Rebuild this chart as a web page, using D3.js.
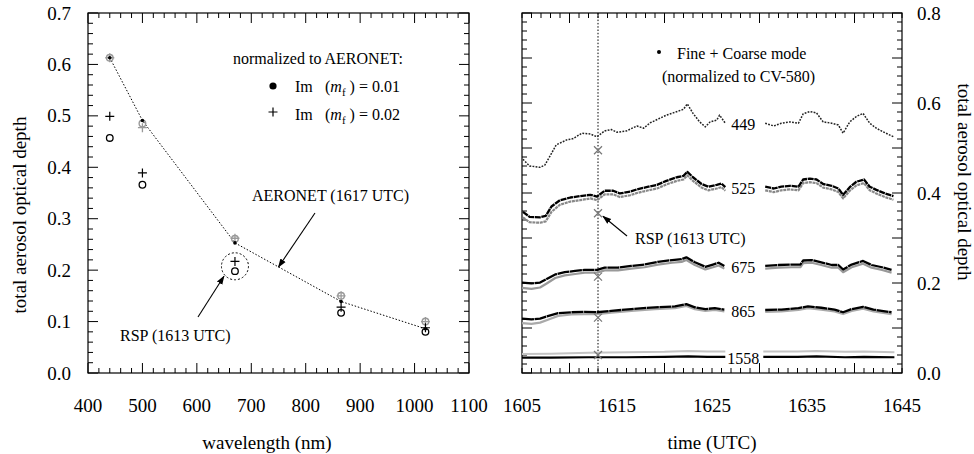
<!DOCTYPE html>
<html><head><meta charset="utf-8">
<script src="https://cdn.jsdelivr.net/npm/d3@7"></script>
<style>
body{margin:0;background:#fff;}
</style></head>
<body><svg id="c" width="974" height="454" style="font-family:'Liberation Serif','Times New Roman',serif"></svg>
<script>
// ---------- Left panel data ----------
const wavelengths = [440, 500, 670, 865, 1020];
const aeronetAod   = [0.613, 0.491, 0.253, 0.139, 0.086];
const rspIm001     = [0.457, 0.366, 0.198, 0.117, 0.080];   // open circles
const rspIm002     = [0.499, 0.389, 0.217, 0.128, 0.088];   // plus
const normIm001    = [0.613, 0.485, 0.261, 0.150, 0.100];   // gray circles
const normIm002    = [0.613, 0.477, 0.262, 0.150, 0.100];   // gray plus
const leftXTicks = [400, 500, 600, 700, 800, 900, 1000, 1100];
const leftYTicks = [0.0, 0.1, 0.2, 0.3, 0.4, 0.5, 0.6, 0.7];

// ---------- Right panel data ----------
const dataGap = [1627, 1630];  // no data recorded in this interval
const t449 = [1605.1,1605.8,1606.9,1607.4,1608.0,1608.6,1609.7,1610.4,1611.3,1612.2,1612.9,1613.7,1614.4,1615.0,1616.0,1617.1,1617.8,1618.5,1619.5,1620.2,1620.9,1622.0,1622.4,1623.0,1623.7,1624.3,1624.8,1625.5,1625.8,1626.4,1630.6,1631.5,1632.3,1633.2,1634.1,1634.6,1635.3,1636.0,1636.7,1637.6,1638.3,1638.8,1639.5,1640.2,1640.9,1641.6,1642.3,1643.0,1644.1];
const v449 = [0.475,0.460,0.457,0.462,0.484,0.507,0.518,0.521,0.533,0.531,0.525,0.538,0.541,0.535,0.538,0.549,0.544,0.556,0.566,0.573,0.578,0.586,0.598,0.577,0.558,0.547,0.558,0.562,0.573,0.555,0.555,0.549,0.555,0.558,0.555,0.576,0.581,0.578,0.558,0.555,0.551,0.533,0.558,0.570,0.577,0.555,0.544,0.536,0.525];

const t525 = [1605.1,1605.8,1606.9,1607.5,1608.1,1609.0,1610.1,1611.1,1612.2,1612.9,1613.7,1614.6,1615.3,1616.4,1617.1,1618.1,1619.2,1620.2,1621.3,1622.0,1622.4,1623.0,1623.9,1624.6,1625.5,1626.0,1626.4,1630.6,1631.5,1632.3,1633.2,1634.1,1634.6,1635.3,1636.0,1636.7,1637.6,1638.3,1638.8,1639.5,1640.2,1641.0,1641.6,1642.3,1643.2,1644.1];
const v525 = [0.358,0.347,0.346,0.349,0.370,0.384,0.390,0.393,0.396,0.392,0.405,0.405,0.399,0.403,0.408,0.413,0.418,0.427,0.435,0.438,0.447,0.435,0.420,0.414,0.418,0.421,0.413,0.414,0.410,0.414,0.416,0.414,0.430,0.432,0.430,0.420,0.416,0.410,0.396,0.413,0.425,0.430,0.414,0.407,0.399,0.393];
const g525 = [0.346,0.335,0.334,0.337,0.358,0.374,0.381,0.384,0.388,0.384,0.397,0.397,0.391,0.395,0.400,0.405,0.410,0.419,0.427,0.430,0.439,0.427,0.412,0.406,0.410,0.413,0.405,0.406,0.402,0.406,0.408,0.406,0.422,0.424,0.422,0.412,0.408,0.402,0.388,0.405,0.417,0.422,0.406,0.399,0.391,0.385];

const t675 = [1605.0,1606.0,1606.9,1607.6,1608.5,1609.5,1610.6,1611.6,1612.9,1613.7,1615.1,1616.5,1617.9,1619.3,1620.8,1621.8,1622.3,1623.2,1624.3,1625.1,1625.7,1626.3,1630.6,1632.0,1633.4,1634.3,1634.6,1635.5,1636.5,1637.6,1638.3,1638.8,1639.7,1640.9,1641.8,1642.9,1643.9];
const v675 = [0.201,0.199,0.201,0.209,0.219,0.224,0.227,0.229,0.229,0.234,0.234,0.238,0.241,0.247,0.251,0.253,0.257,0.246,0.236,0.241,0.245,0.238,0.238,0.240,0.241,0.241,0.250,0.251,0.246,0.240,0.240,0.230,0.241,0.249,0.240,0.235,0.229];
const g675 = [0.189,0.187,0.190,0.199,0.211,0.217,0.220,0.223,0.223,0.228,0.228,0.232,0.235,0.241,0.245,0.247,0.251,0.240,0.230,0.235,0.239,0.232,0.232,0.234,0.235,0.235,0.244,0.245,0.240,0.234,0.234,0.224,0.235,0.243,0.234,0.229,0.223];

const t865 = [1605.0,1606.0,1606.9,1607.8,1608.8,1610.2,1611.6,1612.9,1614.4,1616.5,1619.0,1621.1,1622.3,1623.2,1624.3,1625.3,1626.3,1630.6,1632.3,1634.1,1635.1,1636.5,1637.9,1638.8,1639.7,1640.9,1642.0,1643.9];
const v865 = [0.121,0.119,0.121,0.127,0.133,0.135,0.136,0.135,0.138,0.142,0.146,0.148,0.153,0.146,0.142,0.144,0.141,0.140,0.141,0.144,0.148,0.145,0.141,0.135,0.142,0.147,0.141,0.135];
const g865 = [0.111,0.109,0.112,0.119,0.127,0.130,0.131,0.131,0.134,0.138,0.142,0.144,0.149,0.142,0.138,0.140,0.137,0.136,0.137,0.140,0.144,0.141,0.137,0.131,0.138,0.143,0.137,0.131];

const t1558 = [1605.0,1608.0,1612.0,1616.0,1620.0,1622.5,1624.5,1626.4,1630.4,1634.0,1636.0,1639.0,1641.0,1644.2];
const v1558 = [0.034,0.034,0.035,0.035,0.036,0.037,0.036,0.036,0.036,0.036,0.037,0.035,0.036,0.035];
const g1558 = [0.042,0.043,0.045,0.046,0.047,0.049,0.048,0.048,0.048,0.048,0.049,0.047,0.048,0.046];

const channelLabels = ["449", "525", "675", "865", "1558"];
const rspTime = 1613;
const rspValues = [0.495, 0.355, 0.214, 0.123, 0.040];
const rightXTicks = [1605, 1615, 1625, 1635, 1645];
const rightYTicks = [0.0, 0.2, 0.4, 0.6, 0.8];

// ---------- drawing ----------
const svg = d3.select("#c");
const FS = 19;
const FONT = "'Liberation Serif','Times New Roman',serif";
function txt(g) { return g.append("text").style("font-family", FONT).attr("fill", "#000"); }

function frame(g, x, y, xMinor, xMajor, yMinor, yMajor) {
  const [x0, x1] = x.range(), [y0, y1] = y.range();
  g.append("rect").attr("x", x0).attr("y", y1).attr("width", x1 - x0).attr("height", y0 - y1)
    .attr("fill", "none").attr("stroke", "#000").attr("stroke-width", 1.2);
  const isMaj = (v, maj) => Math.abs(v / maj - Math.round(v / maj)) < 1e-6;
  xMinor.forEach(v => {
    const L = isMaj(v, xMajor) ? 10 : 5, px = x(v);
    g.append("line").attr("x1", px).attr("x2", px).attr("y1", y0).attr("y2", y0 - L).attr("stroke", "#000");
    g.append("line").attr("x1", px).attr("x2", px).attr("y1", y1).attr("y2", y1 + L).attr("stroke", "#000");
  });
  yMinor.forEach(v => {
    const L = isMaj(v, yMajor) ? 10 : 5, py = y(v);
    g.append("line").attr("y1", py).attr("y2", py).attr("x1", x0).attr("x2", x0 + L).attr("stroke", "#000");
    g.append("line").attr("y1", py).attr("y2", py).attr("x1", x1).attr("x2", x1 - L).attr("stroke", "#000");
  });
}

const defs = svg.append("defs");
defs.append("marker").attr("id", "arr").attr("viewBox", "0 0 10 10").attr("refX", 9).attr("refY", 5)
  .attr("markerWidth", 9).attr("markerHeight", 9).attr("orient", "auto-start-reverse").attr("markerUnits", "userSpaceOnUse")
  .append("path").attr("d", "M0,1.5 L10,5 L0,8.5 Z").attr("fill", "#000");

// ===== Left panel =====
const xL = d3.scaleLinear().domain([400, 1100]).range([88, 469]);
const yL = d3.scaleLinear().domain([0, 0.7]).range([373, 13]);
const gL = svg.append("g");
frame(gL, xL, yL, d3.range(400, 1101, 20), 100, d3.range(0, 0.7001, 0.02).map(v => +v.toFixed(2)), 0.1);

leftXTicks.forEach(d => txt(gL).attr("x", xL(d)).attr("y", 412).attr("text-anchor", "middle").attr("font-size", FS).text(d));
leftYTicks.forEach(d => txt(gL).attr("x", 71).attr("y", yL(d) + 6.5).attr("text-anchor", "end").attr("font-size", FS).text(d.toFixed(1)));
txt(gL).attr("x", 267).attr("y", 449).attr("text-anchor", "middle").attr("font-size", FS).text("wavelength (nm)");
txt(gL).attr("transform", "translate(26,215) rotate(-90)").attr("text-anchor", "middle").attr("font-size", FS)
  .text("total aerosol optical depth");

const aer = wavelengths.map((w, i) => [w, aeronetAod[i]]);
gL.append("path").datum(aer).attr("d", d3.line().x(d => xL(d[0])).y(d => yL(d[1])))
  .attr("fill", "none").attr("stroke", "#000").attr("stroke-width", 1).attr("stroke-dasharray", "1.5,1.8");

function plus(g, cx, cy, s, color, w) {
  g.append("path").attr("d", `M${cx - s},${cy}H${cx + s}M${cx},${cy - s}V${cy + s}`)
    .attr("stroke", color).attr("stroke-width", w).attr("fill", "none");
}
wavelengths.forEach((w, i) => {
  const cx = xL(w);
  gL.append("circle").attr("cx", cx).attr("cy", yL(normIm001[i])).attr("r", 3.3).attr("fill", "none").attr("stroke", "#999").attr("stroke-width", 1.4);
  plus(gL, cx, yL(normIm002[i]), 4.5, "#999", 1.3);
  gL.append("circle").attr("cx", cx).attr("cy", yL(rspIm001[i])).attr("r", 3.3).attr("fill", "none").attr("stroke", "#000").attr("stroke-width", 1.3);
  plus(gL, cx, yL(rspIm002[i]), 4.5, "#000", 1.2);
  gL.append("circle").attr("cx", cx).attr("cy", yL(aeronetAod[i])).attr("r", 1.8).attr("fill", "#000");
});

// legend
txt(gL).attr("x", 233).attr("y", 64).attr("font-size", 16).text("normalized to AERONET:");
gL.append("circle").attr("cx", 273).attr("cy", 86).attr("r", 3.6).attr("fill", "#000");
plus(gL, 273, 112, 4.5, "#000", 1.2);
[["0.01", 92], ["0.02", 120]].forEach(([val, by]) => {
  const t = txt(gL).attr("x", 295).attr("y", by).attr("font-size", 16);
  t.append("tspan").text("Im");
  t.append("tspan").attr("x", 325).text("(");
  t.append("tspan").attr("font-style", "italic").text("m");
  t.append("tspan").attr("font-size", 11).attr("dy", 4).text("f");
  t.append("tspan").attr("dy", -4).text(" ) = " + val);
});

// annotations
const xMid = 750, yMid = d3.scaleLinear().domain([670, 865]).range([aeronetAod[2], aeronetAod[3]])(xMid);
txt(gL).attr("x", 252).attr("y", 201).attr("font-size", 16).text("AERONET (1617 UTC)");
gL.append("line").attr("x1", 315).attr("y1", 213).attr("x2", xL(xMid)).attr("y2", yL(yMid))
  .attr("stroke", "#000").attr("stroke-width", 1.1).attr("marker-end", "url(#arr)");
const ccx = xL(670), ccy = yL((rspIm001[2] + rspIm002[2]) / 2);
gL.append("circle").attr("cx", ccx).attr("cy", ccy).attr("r", 13.5).attr("fill", "none")
  .attr("stroke", "#000").attr("stroke-width", 1).attr("stroke-dasharray", "2,2");
txt(gL).attr("x", 120).attr("y", 341).attr("font-size", 16).text("RSP (1613 UTC)");
gL.append("line").attr("x1", 198).attr("y1", 317).attr("x2", ccx - 11).attr("y2", ccy + 10)
  .attr("stroke", "#000").attr("stroke-width", 1.1).attr("marker-end", "url(#arr)");

// ===== Right panel =====
const xR = d3.scaleLinear().domain([1605, 1645]).range([522, 902]);
const yR = d3.scaleLinear().domain([0, 0.8]).range([373, 13]);
const gR = svg.append("g");
frame(gR, xR, yR, d3.range(1605, 1645.01, 1), 10, d3.range(0, 0.8001, 0.02).map(v => +v.toFixed(2)), 0.1);

rightXTicks.forEach(d => txt(gR).attr("x", xR(d)).attr("y", 412).attr("text-anchor", "middle").attr("font-size", FS).text(d));
rightYTicks.forEach(d => txt(gR).attr("x", 917).attr("y", yR(d) + 6.5).attr("text-anchor", "start").attr("font-size", FS).text(d.toFixed(1)));
txt(gR).attr("x", 712).attr("y", 449).attr("text-anchor", "middle").attr("font-size", FS).text("time (UTC)");
txt(gR).attr("transform", "translate(958,182) rotate(90)").attr("text-anchor", "middle").attr("font-size", FS)
  .text("total aerosol optical depth");

// vertical line at RSP time
gR.append("line").attr("x1", xR(rspTime)).attr("x2", xR(rspTime)).attr("y1", yR(0.8)).attr("y2", yR(0))
  .attr("stroke", "#000").attr("stroke-width", 1).attr("stroke-dasharray", "1.5,1.8");

function series(ts, vs, color, width, dash) {
  const pts = ts.map((t, i) => ({t, v: vs[i]}));
  const segs = [pts.filter(p => p.t < dataGap[0]), pts.filter(p => p.t > dataGap[1])];
  const line = d3.line().x(d => xR(d.t)).y(d => yR(d.v));
  segs.forEach(s => {
    const p = gR.append("path").datum(s).attr("d", line).attr("fill", "none")
      .attr("stroke", color).attr("stroke-width", width).attr("stroke-linejoin", "round");
    if (dash) p.attr("stroke-dasharray", dash);
  });
}
series(t1558, g1558, "#c4c4c4", 2, null);
series(t1558, v1558, "#000", 2.2, null);
series(t865, g865, "#aaa", 2.2, null);
series(t865, v865, "#000", 2.3, "12,0.6");
series(t675, g675, "#999", 2.2, null);
series(t675, v675, "#000", 2.3, "12,0.6");
series(t525, g525, "#888", 2.2, "3,0.7");
series(t525, v525, "#000", 2.3, "6,0.7");
series(t449, v449, "#222", 1.5, "1.8,1.3");

// RSP x markers
rspValues.forEach(v => {
  const cx = xR(rspTime), cy = yR(v), s = 4;
  gR.append("path").attr("d", `M${cx - s},${cy - s}L${cx + s},${cy + s}M${cx - s},${cy + s}L${cx + s},${cy - s}`)
    .attr("stroke", "#777").attr("stroke-width", 1.2);
});

// channel labels placed in the data gap
const chanSeries = [[t449, v449], [t525, v525], [t675, v675], [t865, v865], [t1558, v1558]];
chanSeries.forEach(([ts, vs], i) => {
  const k = ts.findIndex(t => t > dataGap[1]);
  const vm = (vs[k - 1] + vs[k]) / 2;
  txt(gR).attr("x", xR(1628.3)).attr("y", yR(vm) + 7).attr("text-anchor", "middle")
    .attr("font-size", 16).text(channelLabels[i]);
});

// legend
gR.append("circle").attr("cx", 659).attr("cy", 52).attr("r", 2).attr("fill", "#000");
txt(gR).attr("x", 677).attr("y", 59).attr("font-size", 16).text("Fine + Coarse mode");
txt(gR).attr("x", 662).attr("y", 82).attr("font-size", 16).text("(normalized to CV-580)");

// RSP annotation
txt(gR).attr("x", 635).attr("y", 244).attr("font-size", 16).text("RSP (1613 UTC)");
gR.append("line").attr("x1", 627).attr("y1", 236).attr("x2", xR(rspTime) + 5).attr("y2", yR(rspValues[1]) + 3)
  .attr("stroke", "#000").attr("stroke-width", 1.1).attr("marker-end", "url(#arr)");
</script></body></html>
